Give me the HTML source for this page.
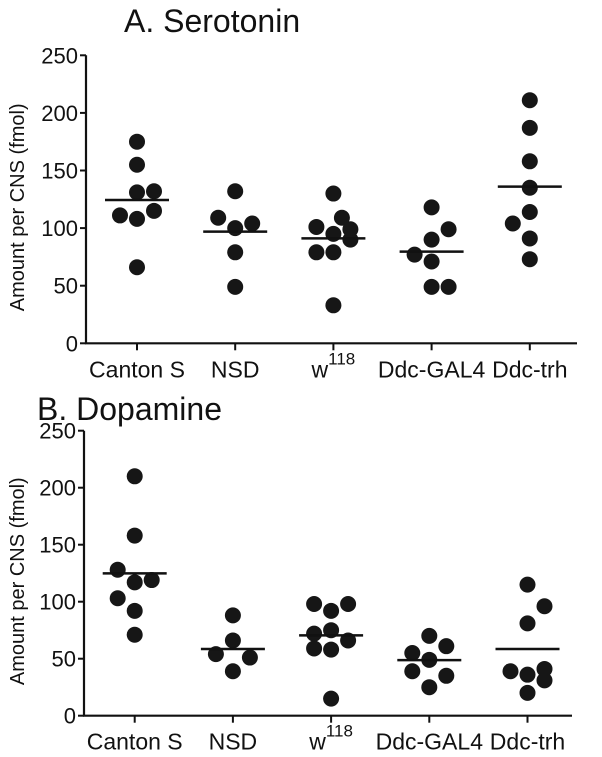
<!DOCTYPE html>
<html><head><meta charset="utf-8"><style>
body{margin:0;background:#fff;}
svg{display:block;font-family:"Liberation Sans",Arial,sans-serif;}
</style></head><body>
<svg id="c" width="602" height="757"></svg>
<script>
const categories=["Canton S","NSD","w","Ddc-GAL4","Ddc-trh"];
const yTicks=[0,50,100,150,200,250];
const serValues=[[175,155,131,132,111,108,115,66],[132,109,104,100,79,49],[130,109,101,99,95,90,79,79,33],[118,99,90,77,71,49,49],[211,187,158,135,114,104,91,73]];
const serJitter=[[0,0,0,1,-1,0,1,0],[0,-1,1,0,0,0],[0,0.5,-1,1,0,1,-1,0,0],[0,1,0,-1,0,0,1],[0,0,0,0,0,-1,0,0]];
const serMeans=[124.4,96.9,91.1,79.6,136];
const dopValues=[[210,158,128,117,119,103,92,71],[88,66,54,51,39],[98,98,92,75,72,66,59,58,15],[70,61,55,49,39,35,25],[115,96,81,39,36,41,31,20]];
const dopJitter=[[0,0,-1,0,1,-1,0,0],[0,0,-1,1,0],[-1,1,0,0,-1,1,-1,0,0],[0,1,-1,0,-1,1,0],[0,1,0,-1,0,1,1,0]];
const dopMeans=[124.9,58.5,70.5,48.8,58.5];

const NS="http://www.w3.org/2000/svg";
const svg=document.getElementById('c');
function mk(t,a,p){const e=document.createElementNS(NS,t);for(const k in a)e.setAttribute(k,a[k]);(p||svg).appendChild(e);return e;}

function panel(cfg){
  const g=mk('g',{});
  
  
  const y=v=>cfg.y0-(cfg.y0-cfg.y250)*v/250;
  const x=i=>cfg.xs+i*cfg.step;
  const t=mk('text',{x:cfg.titleX,y:cfg.titleY,'font-size':32,fill:'#111'},g);
  t.textContent=cfg.title;
  
  
  const yt=mk('text',{transform:`translate(24,${(cfg.y0+cfg.y250)/2+8}) rotate(-90)`,'text-anchor':'middle','font-size':20,fill:'#111'},g);
  yt.textContent="Amount per CNS (fmol)";
  
  
  const ax=mk('path',{d:`M${cfg.ax},${y(250)}V${cfg.y0}H${cfg.axEnd}`,stroke:'#111','stroke-width':2.2,fill:'none'},g);
  
  
  yTicks.forEach(v=>{
    const tk=mk('line',{x1:cfg.ax-6,x2:cfg.ax,y1:y(v),y2:y(v),stroke:'#111','stroke-width':2},g);
    
    
    const l=mk('text',{x:cfg.ax-8,y:y(v)+8,'text-anchor':'end','font-size':22,fill:'#111'},g);
    l.textContent=v;
    
    
  });
  categories.forEach((c,i)=>{
    const tk=mk('line',{x1:x(i),x2:x(i),y1:cfg.y0,y2:cfg.y0+7,stroke:'#111','stroke-width':2},g);
    
    
    const l=mk('text',{x:x(i),y:cfg.y0+34,'text-anchor':'middle','font-size':23,fill:'#111'},g);
    if(c==="w"){l.innerHTML='w<tspan dy="-13" font-size="17">118</tspan>';}
    else l.textContent=c;
    
    
    cfg.vals[i].forEach((v,j)=>{
      const d=mk('circle',{cx:x(i)+cfg.jit[i][j]*17,cy:y(v),r:8,fill:'#161616'},g);
      
      
    });
    const m=mk('line',{x1:x(i)-32,x2:x(i)+32,y1:y(cfg.means[i]),y2:y(cfg.means[i]),stroke:'#111','stroke-width':2.5},g);
    
    
  });
}
panel({name:'serotonin-panel',title:'A. Serotonin',titleX:124,titleY:32,y0:343.3,y250:55.3,xs:137,step:98.2,ax:86,axEnd:577,vals:serValues,jit:serJitter,means:serMeans});
panel({name:'dopamine-panel',title:'B. Dopamine',titleX:37,titleY:420,y0:715.7,y250:430.7,xs:134.7,step:98.2,ax:84,axEnd:572,vals:dopValues,jit:dopJitter,means:dopMeans});
</script>
</body></html>
